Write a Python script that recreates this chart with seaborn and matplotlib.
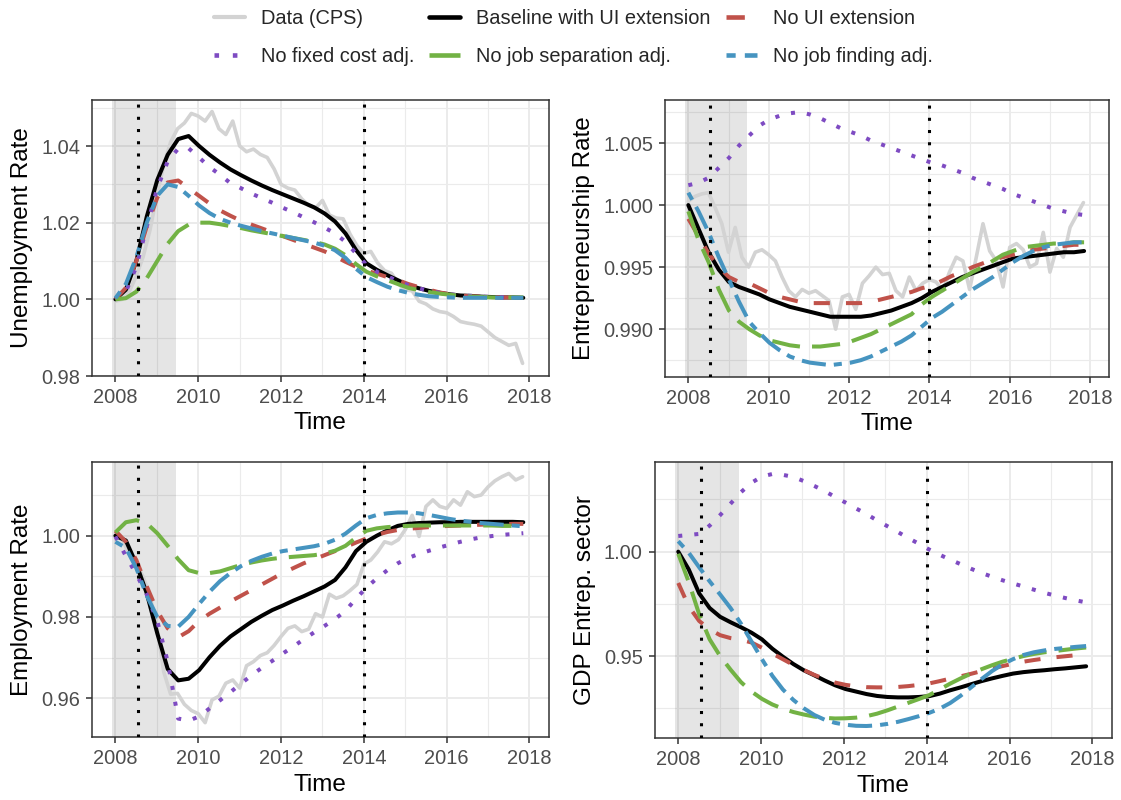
import numpy as np
import pandas as pd
import matplotlib
matplotlib.use("Agg")
import matplotlib.pyplot as plt
import seaborn as sns
from matplotlib.lines import Line2D
from matplotlib.ticker import MultipleLocator, FormatStrFormatter

# time axes: model output (roughly quarterly) and CPS data (every two months)
quarters = np.linspace(2008.0, 2017.85, 40)
months = 2008.0 + np.arange(60) / 6.0

# ---------------- Unemployment rate ----------------
unemp_data = [0.9995, 1.0000, 1.0020, 1.0060, 1.0110, 1.0180, 1.0270, 1.0350, 1.0410, 1.0445,
              1.0460, 1.0485, 1.0478, 1.0465, 1.0490, 1.0445, 1.0430, 1.0465, 1.0400, 1.0385,
              1.0392, 1.0378, 1.0370, 1.0340, 1.0300, 1.0290, 1.0285, 1.0262, 1.0245, 1.0238,
              1.0258, 1.0220, 1.0212, 1.0210, 1.0170, 1.0140, 1.0120, 1.0125, 1.0095, 1.0075,
              1.0068, 1.0040, 1.0025, 1.0022, 0.9995, 0.9988, 0.9975, 0.9968, 0.9965, 0.9955,
              0.9942, 0.9938, 0.9935, 0.9930, 0.9915, 0.9900, 0.9890, 0.9880, 0.9885, 0.9833]
unemp_base = [1.0000, 1.0025, 1.0100, 1.0216, 1.0311, 1.0377, 1.0418, 1.0426, 1.0400, 1.0377,
              1.0357, 1.0339, 1.0324, 1.0310, 1.0297, 1.0285, 1.0274, 1.0263, 1.0252, 1.0240,
              1.0224, 1.0203, 1.0172, 1.0129, 1.0094, 1.0077, 1.0063, 1.0050, 1.0037, 1.0029,
              1.0022, 1.0017, 1.0013, 1.0010, 1.0009, 1.0007, 1.0006, 1.0005, 1.0005, 1.0004]
unemp_noui = [1.0000, 1.0030, 1.0100, 1.0190, 1.0265, 1.0305, 1.0310, 1.0290, 1.0270, 1.0250,
              1.0232, 1.0218, 1.0205, 1.0195, 1.0185, 1.0175, 1.0165, 1.0155, 1.0145, 1.0135,
              1.0125, 1.0112, 1.0098, 1.0085, 1.0075, 1.0067, 1.0058, 1.0050, 1.0040, 1.0032,
              1.0025, 1.0018, 1.0013, 1.0010, 1.0008, 1.0007, 1.0006, 1.0005, 1.0005, 1.0005]
unemp_nofixed = [1.0000, 1.0020, 1.0085, 1.0190, 1.0290, 1.0360, 1.0393, 1.0394, 1.0370, 1.0345,
                 1.0325, 1.0303, 1.0290, 1.0276, 1.0264, 1.0252, 1.0239, 1.0227, 1.0214, 1.0201,
                 1.0187, 1.0172, 1.0150, 1.0120, 1.0090, 1.0072, 1.0060, 1.0048, 1.0037, 1.0029,
                 1.0022, 1.0017, 1.0013, 1.0010, 1.0009, 1.0007, 1.0006, 1.0005, 1.0005, 1.0004]
unemp_nosep = [1.0000, 1.0003, 1.0020, 1.0055, 1.0100, 1.0145, 1.0178, 1.0195, 1.0200, 1.0200,
               1.0196, 1.0191, 1.0186, 1.0180, 1.0175, 1.0170, 1.0165, 1.0160, 1.0155, 1.0150,
               1.0143, 1.0132, 1.0115, 1.0092, 1.0072, 1.0060, 1.0050, 1.0040, 1.0030, 1.0024,
               1.0019, 1.0015, 1.0012, 1.0009, 1.0007, 1.0006, 1.0005, 1.0005, 1.0005, 1.0005]
unemp_nofind = [1.0003, 1.0040, 1.0110, 1.0200, 1.0270, 1.0300, 1.0293, 1.0270, 1.0245, 1.0225,
                1.0210, 1.0200, 1.0192, 1.0185, 1.0178, 1.0172, 1.0166, 1.0160, 1.0154, 1.0148,
                1.0140, 1.0128, 1.0108, 1.0080, 1.0058, 1.0045, 1.0033, 1.0024, 1.0017, 1.0012,
                1.0008, 1.0006, 1.0005, 1.0004, 1.0004, 1.0004, 1.0004, 1.0004, 1.0004, 1.0004]

# ---------------- Entrepreneurship rate ----------------
entre_data = [1.0003, 1.0007, 1.0009, 1.0010, 0.9998, 0.9985, 0.9962, 0.9982, 0.9958, 0.9950,
              0.9962, 0.9964, 0.9960, 0.9955, 0.9942, 0.9931, 0.9926, 0.9932, 0.9929, 0.9931,
              0.9927, 0.9923, 0.9900, 0.9926, 0.9928, 0.9916, 0.9937, 0.9943, 0.9950, 0.9944,
              0.9945, 0.9931, 0.9926, 0.9942, 0.9931, 0.9937, 0.9940, 0.9938, 0.9931, 0.9946,
              0.9958, 0.9955, 0.9932, 0.9958, 0.9985, 0.9963, 0.9955, 0.9934, 0.9966, 0.9969,
              0.9964, 0.9950, 0.9953, 0.9978, 0.9946, 0.9965, 0.9958, 0.9982, 0.9992, 1.0002]
entre_base = [1.0000, 0.9981, 0.9962, 0.9948, 0.9938, 0.9934, 0.9931, 0.9928, 0.9924, 0.9921,
              0.9918, 0.9916, 0.9914, 0.9912, 0.9910, 0.9910, 0.9910, 0.9910, 0.9911, 0.9913,
              0.9915, 0.9918, 0.9921, 0.9925, 0.9930, 0.9934, 0.9938, 0.9942, 0.9945, 0.9948,
              0.9951, 0.9954, 0.9957, 0.9958, 0.9959, 0.9960, 0.9961, 0.9962, 0.9962, 0.9963]
entre_noui = [0.9989, 0.9975, 0.9961, 0.9950, 0.9942, 0.9938, 0.9937, 0.9933, 0.9929, 0.9926,
              0.9924, 0.9922, 0.9921, 0.9921, 0.9921, 0.9921, 0.9921, 0.9921, 0.9922, 0.9924,
              0.9926, 0.9928, 0.9930, 0.9933, 0.9935, 0.9939, 0.9943, 0.9946, 0.9950, 0.9953,
              0.9956, 0.9958, 0.9960, 0.9962, 0.9964, 0.9965, 0.9966, 0.9967, 0.9968, 0.9968]
entre_nofixed = [1.0016, 1.0018, 1.0022, 1.0030, 1.0038, 1.0048, 1.0056, 1.0064, 1.0069, 1.0072,
                 1.0074, 1.0075, 1.0073, 1.0070, 1.0066, 1.0062, 1.0059, 1.0056, 1.0052, 1.0049,
                 1.0046, 1.0043, 1.0040, 1.0037, 1.0034, 1.0032, 1.0029, 1.0026, 1.0022, 1.0019,
                 1.0016, 1.0013, 1.0009, 1.0006, 1.0003, 1.0000, 0.9997, 0.9995, 0.9993, 0.9992]
entre_nosep = [0.9995, 0.9972, 0.9954, 0.9932, 0.9915, 0.9906, 0.9900, 0.9895, 0.9891, 0.9889,
               0.9887, 0.9886, 0.9886, 0.9886, 0.9887, 0.9888, 0.9890, 0.9893, 0.9896, 0.9900,
               0.9904, 0.9908, 0.9912, 0.9920, 0.9926, 0.9931, 0.9936, 0.9941, 0.9946, 0.9950,
               0.9955, 0.9960, 0.9963, 0.9966, 0.9967, 0.9968, 0.9969, 0.9969, 0.9970, 0.9970]
entre_nofind = [1.0010, 0.9995, 0.9978, 0.9958, 0.9940, 0.9922, 0.9906, 0.9897, 0.9889, 0.9883,
                0.9878, 0.9875, 0.9873, 0.9872, 0.9871, 0.9872, 0.9873, 0.9875, 0.9878, 0.9882,
                0.9886, 0.9890, 0.9895, 0.9902, 0.9909, 0.9914, 0.9920, 0.9926, 0.9932, 0.9937,
                0.9942, 0.9948, 0.9954, 0.9959, 0.9963, 0.9966, 0.9968, 0.9969, 0.9970, 0.9970]

# ---------------- Employment rate ----------------
emp_data = [0.9998, 0.9990, 0.9955, 0.9930, 0.9900, 0.9852, 0.9780, 0.9665, 0.9610, 0.9612,
            0.9585, 0.9570, 0.9562, 0.9540, 0.9596, 0.9605, 0.9637, 0.9645, 0.9625, 0.9680,
            0.9690, 0.9705, 0.9712, 0.9730, 0.9752, 0.9772, 0.9778, 0.9764, 0.9770, 0.9808,
            0.9800, 0.9856, 0.9846, 0.9852, 0.9865, 0.9880, 0.9930, 0.9940, 0.9960, 0.9985,
            0.9980, 0.9990, 1.0015, 1.0050, 0.9998, 1.0072, 1.0088, 1.0072, 1.0067, 1.0088,
            1.0075, 1.0108, 1.0096, 1.0100, 1.0120, 1.0135, 1.0145, 1.0153, 1.0137, 1.0145]
emp_base = [1.0000, 0.9988, 0.9930, 0.9858, 0.9760, 0.9672, 0.9644, 0.9648, 0.9669, 0.9701,
            0.9729, 0.9752, 0.9770, 0.9788, 0.9803, 0.9817, 0.9828, 0.9840, 0.9851, 0.9863,
            0.9875, 0.9891, 0.9922, 0.9962, 0.9985, 1.0000, 1.0013, 1.0024, 1.0029, 1.0031,
            1.0032, 1.0033, 1.0033, 1.0034, 1.0034, 1.0034, 1.0034, 1.0034, 1.0034, 1.0033]
emp_noui = [1.0012, 0.9985, 0.9940, 0.9875, 0.9815, 0.9772, 0.9750, 0.9765, 0.9790, 0.9808,
            0.9823, 0.9838, 0.9852, 0.9866, 0.9880, 0.9894, 0.9908, 0.9920, 0.9932, 0.9942,
            0.9952, 0.9962, 0.9972, 0.9983, 0.9993, 1.0002, 1.0009, 1.0014, 1.0017, 1.0019,
            1.0021, 1.0023, 1.0024, 1.0025, 1.0026, 1.0027, 1.0028, 1.0028, 1.0029, 1.0029]
emp_nofixed = [0.9998, 0.9950, 0.9905, 0.9855, 0.9790, 0.9690, 0.9550, 0.9545, 0.9555, 0.9575,
               0.9595, 0.9615, 0.9636, 0.9656, 0.9675, 0.9692, 0.9710, 0.9727, 0.9745, 0.9762,
               0.9778, 0.9795, 0.9815, 0.9845, 0.9872, 0.9895, 0.9915, 0.9932, 0.9945, 0.9955,
               0.9963, 0.9971, 0.9978, 0.9985, 0.9991, 0.9996, 0.9999, 1.0002, 1.0004, 1.0006]
emp_nosep = [1.0008, 1.0033, 1.0038, 1.0030, 1.0006, 0.9975, 0.9942, 0.9915, 0.9908, 0.9908,
             0.9912, 0.9920, 0.9928, 0.9934, 0.9939, 0.9943, 0.9946, 0.9948, 0.9950, 0.9952,
             0.9956, 0.9963, 0.9975, 0.9995, 1.0012, 1.0018, 1.0021, 1.0023, 1.0024, 1.0025,
             1.0025, 1.0025, 1.0025, 1.0025, 1.0025, 1.0025, 1.0025, 1.0024, 1.0024, 1.0024]
emp_nofind = [0.9985, 0.9970, 0.9920, 0.9852, 0.9800, 0.9778, 0.9776, 0.9800, 0.9832, 0.9862,
              0.9888, 0.9908, 0.9925, 0.9938, 0.9948, 0.9956, 0.9962, 0.9966, 0.9970, 0.9974,
              0.9980, 0.9990, 1.0005, 1.0025, 1.0043, 1.0051, 1.0055, 1.0057, 1.0057, 1.0055,
              1.0051, 1.0046, 1.0041, 1.0037, 1.0034, 1.0031, 1.0029, 1.0027, 1.0025, 1.0023]

# ---------------- GDP entrepreneurial sector ----------------
gdp_base = [1.0000, 0.9915, 0.9800, 0.9730, 0.9688, 0.9662, 0.9638, 0.9612, 0.9580, 0.9535,
            0.9497, 0.9462, 0.9432, 0.9408, 0.9383, 0.9360, 0.9342, 0.9330, 0.9318, 0.9309,
            0.9304, 0.9302, 0.9302, 0.9304, 0.9308, 0.9320, 0.9336, 0.9350, 0.9365, 0.9380,
            0.9393, 0.9405, 0.9416, 0.9423, 0.9428, 0.9432, 0.9437, 0.9441, 0.9446, 0.9451]
gdp_noui = [0.9850, 0.9738, 0.9668, 0.9628, 0.9600, 0.9586, 0.9578, 0.9565, 0.9540, 0.9512,
            0.9485, 0.9458, 0.9433, 0.9410, 0.9390, 0.9373, 0.9362, 0.9355, 0.9351, 0.9350,
            0.9350, 0.9352, 0.9356, 0.9362, 0.9369, 0.9380, 0.9392, 0.9403, 0.9415, 0.9428,
            0.9440, 0.9452, 0.9463, 0.9473, 0.9481, 0.9488, 0.9494, 0.9499, 0.9504, 0.9509]
gdp_nofixed = [1.0075, 1.0080, 1.0085, 1.0125, 1.0175, 1.0230, 1.0285, 1.0330, 1.0360, 1.0372,
               1.0368, 1.0358, 1.0338, 1.0315, 1.0290, 1.0262, 1.0235, 1.0207, 1.0180, 1.0150,
               1.0122, 1.0094, 1.0065, 1.0038, 1.0010, 0.9985, 0.9962, 0.9940, 0.9918, 0.9898,
               0.9880, 0.9863, 0.9848, 0.9833, 0.9818, 0.9803, 0.9790, 0.9778, 0.9767, 0.9757]
gdp_nosep = [0.9990, 0.9855, 0.9700, 0.9580, 0.9500, 0.9435, 0.9375, 0.9330, 0.9295, 0.9268,
             0.9248, 0.9232, 0.9220, 0.9210, 0.9204, 0.9201, 0.9202, 0.9205, 0.9212, 0.9224,
             0.9240, 0.9258, 0.9276, 0.9294, 0.9313, 0.9340, 0.9368, 0.9393, 0.9416, 0.9437,
             0.9456, 0.9473, 0.9487, 0.9500, 0.9510, 0.9518, 0.9524, 0.9530, 0.9536, 0.9541]
gdp_nofind = [1.0050, 0.9995, 0.9925, 0.9858, 0.9795, 0.9730, 0.9655, 0.9570, 0.9485, 0.9405,
              0.9340, 0.9290, 0.9250, 0.9218, 0.9195, 0.9180, 0.9171, 0.9166, 0.9165, 0.9168,
              0.9175, 0.9185, 0.9198, 0.9212, 0.9228, 0.9248, 0.9275, 0.9310, 0.9350, 0.9390,
              0.9428, 0.9460, 0.9485, 0.9505, 0.9518, 0.9527, 0.9534, 0.9539, 0.9544, 0.9548]

series_names = ["Data (CPS)", "Baseline with UI extension", "No UI extension",
                "No fixed cost adj.", "No job separation adj.", "No job finding adj."]

# line looks (ggplot linetypes: dashed 44, dotted 13, longdash 73, twodash 2262)
line_style = {
    "Data (CPS)": dict(color="#D3D3D3", linewidth=2.6, linestyle="-"),
    "Baseline with UI extension": dict(color="black", linewidth=2.9, linestyle="-"),
    "No UI extension": dict(color="#C0524A", linewidth=2.9, linestyle=(0, (4, 4))),
    "No fixed cost adj.": dict(color="#7E4BC2", linewidth=2.9, linestyle=(0, (1, 3))),
    "No job separation adj.": dict(color="#72B244", linewidth=2.9, linestyle=(0, (7, 3))),
    "No job finding adj.": dict(color="#4694C0", linewidth=2.9, linestyle=(0, (2, 2, 6, 2))),
}

sns.set_theme(style="white")
plt.rcParams["font.family"] = ["Liberation Sans", "DejaVu Sans"]

fig = plt.figure(figsize=(11.21, 8.0), dpi=100)

panels = [
    dict(rect=[0.0819, 0.530, 0.4078, 0.345], label="Unemployment Rate",
         curves=[unemp_data, unemp_base, unemp_noui, unemp_nofixed, unemp_nosep, unemp_nofind],
         ylim=(0.980, 1.052), major=0.02, minor=0.01, fmt="%.2f"),
    dict(rect=[0.5936, 0.529, 0.3957, 0.346], label="Entrepreneurship Rate",
         curves=[entre_data, entre_base, entre_noui, entre_nofixed, entre_nosep, entre_nofind],
         ylim=(0.98616, 1.00847), major=0.005, minor=0.0025, fmt="%.3f"),
    dict(rect=[0.0819, 0.0784, 0.4078, 0.3445], label="Employment Rate",
         curves=[emp_data, emp_base, emp_noui, emp_nofixed, emp_nosep, emp_nofind],
         ylim=(0.9504, 1.0182), major=0.02, minor=0.01, fmt="%.2f"),
    dict(rect=[0.5840, 0.0771, 0.4078, 0.3458], label="GDP Entrep. sector",
         curves=[None, gdp_base, gdp_noui, gdp_nofixed, gdp_nosep, gdp_nofind],
         ylim=(0.9106, 1.0431), major=0.05, minor=0.025, fmt="%.2f"),
]

grid_col = "#EBEBEB"
frame_col = "#333333"

for p in panels:
    ax = fig.add_axes(p["rect"])
    ax.set_facecolor("white")
    # recession shading
    ax.axvspan(2007.917, 2009.458, color="black", alpha=0.1, lw=0, zorder=1)
    for name, vals in zip(series_names, p["curves"]):
        if vals is None:
            continue
        t = months if name == "Data (CPS)" else quarters
        df = pd.DataFrame({"Time": t, "value": vals})
        sns.lineplot(data=df, x="Time", y="value", ax=ax, errorbar=None,
                     zorder=3, **line_style[name])
    for xv in (2008.54, 2014.0):
        ax.axvline(xv, color="black", linewidth=2.2, linestyle=(0, (1, 3)), zorder=4)

    ax.set_xlim(2007.43, 2018.47)
    ax.set_ylim(*p["ylim"])
    ax.xaxis.set_major_locator(MultipleLocator(2))
    ax.xaxis.set_minor_locator(MultipleLocator(1))
    ax.yaxis.set_major_locator(MultipleLocator(p["major"]))
    ax.yaxis.set_minor_locator(MultipleLocator(p["minor"]))
    ax.yaxis.set_major_formatter(FormatStrFormatter(p["fmt"]))
    ax.xaxis.set_major_formatter(FormatStrFormatter("%d"))

    ax.grid(which="major", color=grid_col, linewidth=1.4)
    ax.grid(which="minor", color=grid_col, linewidth=0.8)
    ax.set_axisbelow(True)
    for s in ax.spines.values():
        s.set_color(frame_col)
        s.set_linewidth(1.1)
    ax.tick_params(which="major", length=4.5, width=1.1, color=frame_col,
                   labelcolor="#4D4D4D", labelsize=14.4, pad=4, bottom=True, left=True)
    ax.tick_params(which="minor", length=0)
    ax.set_xlabel("Time", fontsize=17.5, color="black", labelpad=4)
    ax.set_ylabel(p["label"], fontsize=17.5, color="black", labelpad=6)

# legend laid out row-wise like the original (matplotlib fills column-wise)
order = [0, 3, 1, 4, 2, 5]
handles = []
labels = []
for i in order:
    name = series_names[i]
    st = line_style[name]
    handles.append(Line2D([], [], color=st["color"], linewidth=st["linewidth"] + 0.4,
                          linestyle=st["linestyle"]))
    labels.append(name)
fig.legend(handles, labels, ncol=3, loc="upper left",
           bbox_to_anchor=(214 / 1121, 1 - 9 / 800), frameon=False,
           fontsize=14.4, handlelength=1.55, handletextpad=0.8,
           columnspacing=0.75, labelspacing=0.95, borderpad=0, borderaxespad=0)

fig.savefig("out.png", dpi=100)
